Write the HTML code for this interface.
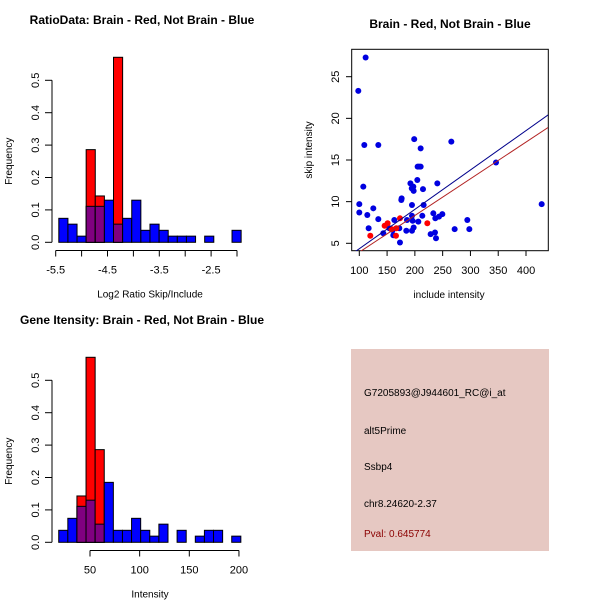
<!DOCTYPE html>
<html><head><meta charset="utf-8"><style>
body{margin:0;background:#fff}
svg{display:block;font-family:"Liberation Sans",sans-serif}
</style></head><body>
<svg id="c" width="600" height="600" xmlns="http://www.w3.org/2000/svg">
<rect width="600" height="600" fill="#fff"/>
</svg>
<script>
// Ratio histogram data
const ratioStart = -5.44, ratioWidth = 0.176;
const ratioBlue = [0.074,0.056,0.019,0.111,0.111,0.13,0.056,0.074,0.13,0.037,0.056,0.037,0.019,0.019,0.019,0,0.019,0,0,0.037];
const ratioRed  = [0,0,0,0.286,0.143,0,0.571,0,0,0,0,0,0,0,0,0,0,0,0,0];
const ratioTicks = [-5.5,-5,-4.5,-4,-3.5,-3,-2.5,-2];
const ratioTickLabels = ["-5.5","","-4.5","","-3.5","","-2.5",""];
// Intensity histogram data
const intStart = 18.5, intWidth = 9.17;
const intBlue = [0.037,0.074,0.111,0.13,0.056,0.185,0.037,0.037,0.074,0.037,0.019,0.056,0,0.037,0,0.019,0.037,0.037,0,0.019];
const intRed  = [0,0,0.143,0.571,0.286,0,0,0,0,0,0,0,0,0,0,0,0,0,0,0];
const intTicks = [50,100,150,200];
const freqTicks = [0,0.1,0.2,0.3,0.4,0.5];
// Scatter data
const blueX = [111.4,98.2,109,134.2,107.2,100,100,114.4,125.2,134.2,116.8,143.2,154,160,163,161.2,173.2,172,175.6,176.2,184.6,185.8,194.8,192,194.4,197.2,197.8,194.8,196,197.8,194.8,198.8,204.4,205,207.5,210.4,210.4,214.6,215.8,213.4,206.2,228.4,233.2,236.8,236.2,238,240.4,243.4,249.4,265.6,271.6,294.4,298,346,428.2];
const blueY = [27.3,23.3,16.8,16.8,11.8,9.7,8.7,8.4,9.2,7.9,6.8,6.2,6.8,6.6,7.8,5.96,5.1,6.8,10.2,10.4,6.5,7.8,9.6,12.2,11.6,11.8,11.3,8.3,7.7,6.9,6.5,17.5,12.6,14.2,14.2,14.2,16.4,11.5,9.6,8.3,7.6,6.1,8.6,8.0,6.3,5.6,12.2,8.2,8.5,17.2,6.7,7.8,6.7,14.7,9.7];
const redX = [119.8,145.6,151,166.6,166,173.2,222.4,158];
const redY = [5.9,7.1,7.4,6.8,5.9,8.0,7.4,6.7];
const blueFit = [-0.38, 0.04727];
const redFit = [-0.47, 0.04405];
const scXTicks = [100,150,200,250,300,350,400];
const scYTicks = [5,10,15,20,25];

const NS="http://www.w3.org/2000/svg";
const svg=document.getElementById('c');
function el(tag,attrs,parent){const e=document.createElementNS(NS,tag);for(const k in attrs)e.setAttribute(k,attrs[k]);(parent||svg).appendChild(e);return e;}
function txt(s,x,y,attrs,parent){const t=el('text',Object.assign({x:x,y:y},attrs||{}),parent);t.textContent=s;return t;}

function hist(gName,top,xMap,start,width,blue,red,ticks,tickLabels,axisMin,axisMax,title,xlabel){
  const g=el('g',{});
  
  
  const yMap=v=>top+202.3-v*324;
  for(let i=0;i<blue.length;i++){
    const x0=xMap(start+i*width), x1=xMap(start+(i+1)*width);
    const b=blue[i], r=red[i];
    if(b>0){const rc=el('rect',{x:x0,y:yMap(b),width:x1-x0,height:yMap(0)-yMap(b),fill:'#0000ff',stroke:'#000','stroke-width':1},g);
      }
    if(r>0){const rc=el('rect',{x:x0,y:yMap(r),width:x1-x0,height:yMap(0)-yMap(r),fill:'#ff0000',stroke:'#000','stroke-width':1},g);
      }
    if(r>0&&b>0){const m=Math.min(r,b);const rc=el('rect',{x:x0,y:yMap(m),width:x1-x0,height:yMap(0)-yMap(m),fill:'#800080',stroke:'#000','stroke-width':1},g);
      }
  }
  const ya=el('g',{},g);
  el('line',{x1:52,x2:52,y1:yMap(0),y2:yMap(0.5),stroke:'#000'},ya);
  freqTicks.forEach(v=>{el('line',{x1:45,x2:52,y1:yMap(v),y2:yMap(v),stroke:'#000'},ya);
    txt(v.toFixed(1),39,yMap(v),{'font-size':11,'text-anchor':'middle',transform:`rotate(-90 39 ${yMap(v)})`},ya);});
  const xa=el('g',{},g);
  const ay=top+210.5;
  el('line',{x1:xMap(axisMin),x2:xMap(axisMax),y1:ay,y2:ay,stroke:'#000'},xa);
  ticks.forEach((v,i)=>{el('line',{x1:xMap(v),x2:xMap(v),y1:ay,y2:ay+6,stroke:'#000'},xa);
    if(tickLabels[i])txt(tickLabels[i],xMap(v),ay+23,{'font-size':11,'text-anchor':'middle'},xa);});
  const t=txt(title,142,top-16,{'font-size':12,'font-weight':'bold','text-anchor':'middle'});
  const xl=txt(xlabel,150,ay+47,{'font-size':10,'text-anchor':'middle'});
  const yl=txt('Frequency',12,yMap(0.25),{'font-size':10,'text-anchor':'middle',transform:`rotate(-90 12 ${yMap(0.25)})`});
}
const rMap=v=>55.7+(v+5.5)*51.8;
hist('ratio-histogram',40,rMap,ratioStart,ratioWidth,ratioBlue,ratioRed,ratioTicks,ratioTickLabels,-5.5,-2,'RatioData: Brain - Red, Not Brain - Blue','Log2 Ratio Skip/Include');
const iMap=v=>90+(v-50)*0.993;
hist('intensity-histogram',340,iMap,intStart,intWidth,intBlue,intRed,intTicks,intTicks.map(String),50,200,'Gene Itensity: Brain - Red, Not Brain - Blue','Intensity');

// Scatter
const sx=v=>359.3+(v-100)*0.5557, sy=v=>243.3-(v-5)*8.33;
const sg=el('g',{});
el('clipPath',{id:'clp'},sg);
el('rect',{x:352,y:49,width:196,height:202},document.getElementById('clp'));
const box=el('rect',{x:351.7,y:49.3,width:196.6,height:201.4,fill:'none',stroke:'#000'},sg);

const pts=el('g',{'clip-path':'url(#clp)'},sg);
blueX.forEach((x,i)=>{const c=el('circle',{cx:sx(x),cy:sy(blueY[i]),r:3,fill:'#0000e0'},pts);});
redX.forEach((x,i)=>{const c=el('circle',{cx:sx(x),cy:sy(redY[i]),r:3,fill:'#ff0000'},pts);});
[[blueFit,'#00008b','blue-fit-line'],[redFit,'#b22222','red-fit-line']].forEach(([f,col,n])=>{
  const l=el('line',{x1:sx(80),y1:sy(f[0]+f[1]*80),x2:sx(460),y2:sy(f[0]+f[1]*460),stroke:col,'stroke-width':1},pts);
  });
const sxa=el('g',{},sg);
scXTicks.forEach(v=>{el('line',{x1:sx(v),x2:sx(v),y1:250.7,y2:256,stroke:'#000'},sxa);txt(String(v),sx(v),274,{'font-size':11,'text-anchor':'middle'},sxa);});
const sya=el('g',{},sg);
scYTicks.forEach(v=>{el('line',{x1:346,x2:351.7,y1:sy(v),y2:sy(v),stroke:'#000'},sya);txt(String(v),339,sy(v),{'font-size':11,'text-anchor':'middle',transform:`rotate(-90 339 ${sy(v)})`},sya);});
let t=txt('Brain - Red, Not Brain - Blue',450,28,{'font-size':12,'font-weight':'bold','text-anchor':'middle'});
t=txt('include intensity',449,298,{'font-size':10,'text-anchor':'middle'});
t=txt('skip intensity',312,150,{'font-size':10,'text-anchor':'middle',transform:'rotate(-90 312 150)'});

// Info box
const ib=el('g',{});
el('rect',{x:351,y:349,width:198,height:202,fill:'#e6c8c2'},ib);
[['G7205893@J944601_RC@i_at',396,'#000','probe-id'],['alt5Prime',434,'#000','event-type'],['Ssbp4',470,'#000','gene-name'],['chr8.24620-2.37',507,'#000','location'],['Pval: 0.645774',537,'#8b0000','p-value']].forEach(([s,y,c,n])=>{
  const tt=txt(s,364,y,{'font-size':10,fill:c},ib);});
</script>
</body></html>
